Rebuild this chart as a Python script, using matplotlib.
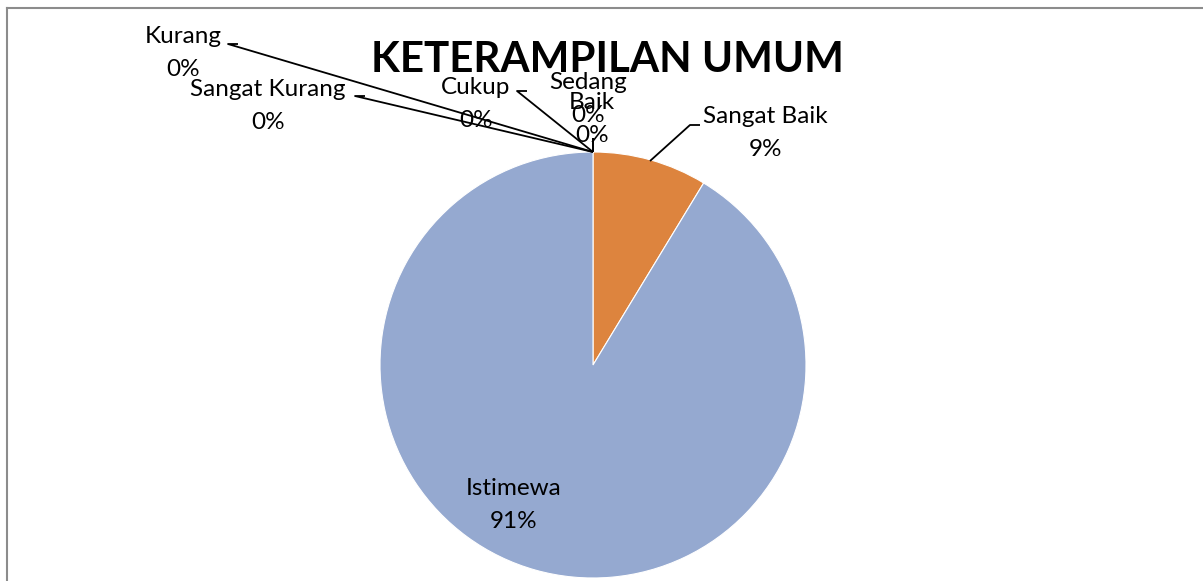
import matplotlib.pyplot as plt
from matplotlib.lines import Line2D

# data
categories = ["Sangat Kurang", "Kurang", "Cukup", "Sedang", "Baik", "Sangat Baik", "Istimewa"]
counts = [0, 0, 0, 0, 0, 2, 21]
colors = ["#4472C4", "#ED7D31", "#A5A5A5", "#FFC000", "#5B9BD5", "#DD843E", "#95A9D0"]

W, H = 1203, 581
cx, cy, R = 593, 216, 213   # pie centre / radius in pixels (y from bottom)

plt.rcParams["font.family"] = ["Lato", "DejaVu Sans"]

fig = plt.figure(figsize=(W / 100, H / 100), dpi=100)
ax = fig.add_axes([0, 0, 1, 1])

wedges, _ = ax.pie(counts, colors=colors, startangle=90, counterclock=False,
                   radius=1, center=(0, 0), frame=True,
                   wedgeprops=dict(edgecolor="white", linewidth=0.8))
ax.set_xlim(-cx / R, (W - cx) / R)
ax.set_ylim(-cy / R, (H - cy) / R)
ax.set_aspect("auto")
ax.axis("off")

def px(x, y):
    # pixel (from top-left) -> data
    return (x - cx) / R, (H - y - cy) / R

total = sum(counts)
pct = [f"{round(100 * c / total)}%" for c in counts]

# label positions in pixels (text centre) and leader elbows
label_pos = {
    "Kurang": ((183, 53), [(228, 44), (238, 44)]),
    "Sangat Kurang": ((268, 106), [(355, 96), (365, 96)]),
    "Cukup": ((476, 104), [(517, 91), (527, 91)]),
    "Sedang": ((588, 99), [(593, 138)]),
    "Baik": ((592, 119), [(593, 138)]),
    "Sangat Baik": ((765, 133), [(690, 125), (700, 125)]),
}
fs = 17.5
ls = 1.65
tip = px(593, 152)
for cat, p in zip(categories, pct):
    if cat == "Istimewa":
        x, y = px(514, 505)
        ax.text(x, y, f"{cat}\n{p}", ha="center", va="center", fontsize=fs,
                linespacing=ls, color="#000000")
        continue
    (tx, ty), elbow = label_pos[cat]
    x, y = px(tx, ty)
    ax.text(x, y, f"{cat}\n{p}", ha="center", va="center", fontsize=fs,
            linespacing=ls, color="#000000")
    start = px(650, 161) if cat == "Sangat Baik" else tip
    pts = [start] + [px(*e) for e in elbow]
    ax.plot([q[0] for q in pts], [q[1] for q in pts], color="black", lw=1.3,
            solid_capstyle="butt", zorder=3)

fig.text(607 / W, 1 - 60 / H, "KETERAMPILAN UMUM", ha="center", va="center",
         fontsize=30.3, fontweight="bold")

# chart border (cropped)
fig.add_artist(Line2D([7 / W, 7 / W], [0, 1 - 7.5 / H], color="#8c8c8c", lw=1.5))
fig.add_artist(Line2D([7 / W, 1], [1 - 7.5 / H, 1 - 7.5 / H], color="#8c8c8c", lw=1.5))

fig.savefig("out.png", dpi=100, facecolor="white")
